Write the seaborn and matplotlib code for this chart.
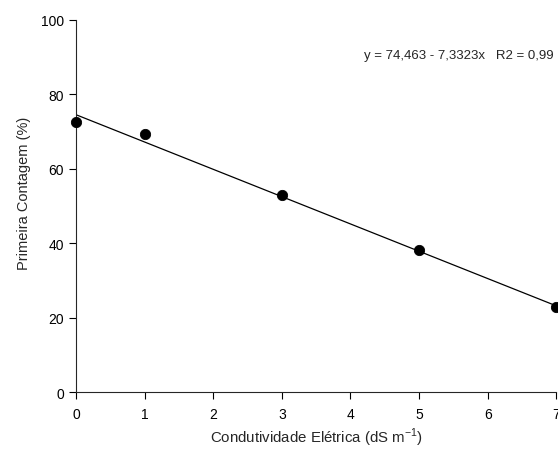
import matplotlib
matplotlib.use("Agg")
import matplotlib.pyplot as plt
import numpy as np
import pandas as pd
import seaborn as sns

# data
condutividade = [0, 1, 3, 5, 7]
primeira_contagem = [72.6, 69.3, 53.0, 38.2, 22.8]
intercept = 74.463
slope = -7.3323
fit_x = [0, 7]

sns.set_style("ticks")
plt.rcParams["font.family"] = ["Liberation Sans", "DejaVu Sans"]

df = pd.DataFrame({"x": condutividade, "y": primeira_contagem})
fit = pd.DataFrame({"x": fit_x, "y": [intercept + slope * v for v in fit_x]})

fig = plt.figure(figsize=(5.58, 4.56), dpi=100)
ax = fig.add_axes([0.136, 0.138, 0.861, 0.817])

sns.lineplot(data=fit, x="x", y="y", ax=ax, color="black", linewidth=0.9)
sns.scatterplot(data=df, x="x", y="y", ax=ax, color="black", s=55,
                edgecolor="black", zorder=3, clip_on=False)

ax.set_xlim(0, 7)
ax.set_ylim(0, 100)
ax.set_xticks(range(0, 8))
ax.set_yticks(range(0, 101, 20))
ax.tick_params(direction="out", length=5, width=0.8, labelsize=10, colors="black")
ax.tick_params(axis="x", pad=6)
for side in ["left", "bottom"]:
    ax.spines[side].set_linewidth(0.8)
sns.despine(ax=ax)

ax.set_xlabel("Condutividade Elétrica (dS m$^{\\mathregular{-1}}$)", fontsize=10.8, labelpad=3)
ax.set_ylabel("Primeira Contagem (%)", fontsize=10.5)
ax.yaxis.set_label_coords(-0.094, 0.535)

ax.text(0.995, 0.905, "y = 74,463 - 7,3323x   R2 = 0,99", transform=ax.transAxes,
        ha="right", va="center", fontsize=9.5)

fig.savefig("out.png", dpi=100)
